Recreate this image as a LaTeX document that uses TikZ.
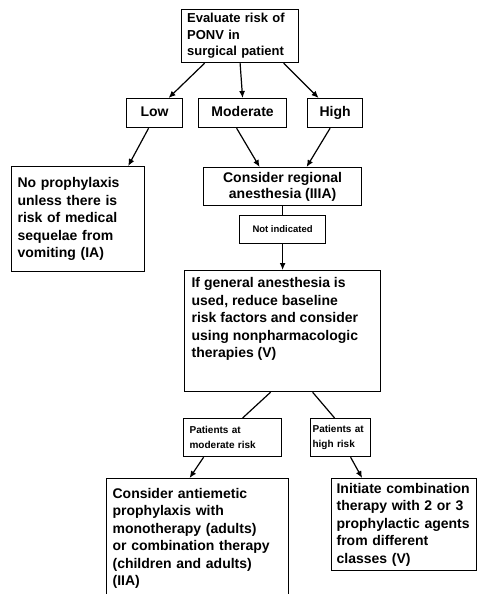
\documentclass[tikz,border=0pt]{standalone}
\usepackage{fontspec}
\setmainfont{Liberation Sans}
\usetikzlibrary{arrows.meta}

\newcommand{\topalign}[3]{\parbox[c][#1][t]{#2}{\raggedright #3}}

\begin{document}
\begin{tikzpicture}[x=1pt, y=-1pt, line width=1.2pt,
    box/.style={draw, anchor=north west, inner sep=0pt, align=left,
      font=\bfseries\fontsize{14}{17.5}\selectfont},
    small/.style={font=\bfseries\fontsize{10}{14.5}\selectfont},
    level/.style={box, align=center, minimum height=29pt, text height=10pt, text depth=3pt},
    arr/.style={-{Latex[length=7pt,width=6pt]}}]

\useasboundingbox (0,0) rectangle (484,594);

% where it all starts
\node[box, minimum width=117pt, minimum height=53pt, text width=106pt,
  font=\bfseries\fontsize{13}{16.5}\selectfont] (eval) at (181,9)
  {Evaluate risk of\\PONV in\\surgical patient};

% the three risk levels
\node[level, minimum width=56pt] (low) at (126,98) {Low};
\node[level, minimum width=88pt] (mod) at (198,98) {Moderate};
\node[level, minimum width=55pt] (high) at (307,98) {High};

\foreach \a/\b/\dst in {-35.5/14/low, 0/0/mod, 43.5/-16.5/high}
  \draw[arr] ([xshift=\a pt]eval.south) -- ([xshift=\b pt]\dst.north);

% low risk
\node[box, minimum width=133pt, minimum height=105pt, text width=121pt] (noproph) at (11,166)
  {No prophylaxis\\unless there is\\risk of medical\\sequelae from\\vomiting (IA)};
\draw[arr] ([xshift=-6pt]low.south) -- ([xshift=-17pt]noproph.north east);

% moderate and high risk
\node[box, align=center, minimum width=158pt, minimum height=38pt,
  font=\bfseries\fontsize{14}{16}\selectfont] (regional) at (203,167)
  {Consider regional\\anesthesia (IIIA)};
\draw[arr] ([xshift=-6pt]mod.south) -- ([xshift=-23pt]regional.north);
\draw[arr] ([xshift=-5pt]high.south) -- ([xshift=24pt]regional.north);

\node[box, align=center, minimum width=86pt, minimum height=28pt,
  font=\bfseries\fontsize{9.5}{12}\selectfont] (notind) at (239,215) {Not indicated};
\draw (regional.south) -- (notind.north);

\node[box, inner sep=7pt] (general) at (184,270)
  {\topalign{107pt}{182pt}{If general anesthesia is\\used, reduce baseline\\risk factors and consider\\using nonpharmacologic\\therapies (V)}};
\draw[arr] (notind.south) -- (general.north);

% split by risk
\node[box, small, minimum width=98pt, minimum height=38pt, text width=86pt] (patmod) at (183,418)
  {Patients at\\moderate risk};
\node[box, small, minimum width=60pt, minimum height=38pt, text width=56pt] (pathigh) at (310,418)
  {Patients at\\high risk};
\draw ([xshift=-12pt]general.south) -- ([xshift=10pt]patmod.north);
\draw ([xshift=30pt]general.south) -- ([xshift=-6pt]pathigh.north);

% what to give
\node[box, minimum width=182pt, minimum height=120pt, text width=170pt] (mono) at (106,478)
  {Consider antiemetic\\prophylaxis with\\monotherapy (adults)\\or combination therapy\\(children and adults)\\(IIA)};
\node[box, minimum width=145pt, minimum height=92pt, text width=135pt] (combo) at (331,478)
  {Initiate combination\\therapy with 2 or 3\\prophylactic agents\\from different\\classes (V)};
\draw[arr] ([xshift=-29pt]patmod.south) -- ([xshift=-8pt]mono.north);
\draw[arr] ([xshift=10pt]pathigh.south) -- ([xshift=-42pt]combo.north);

\end{tikzpicture}
\end{document}
